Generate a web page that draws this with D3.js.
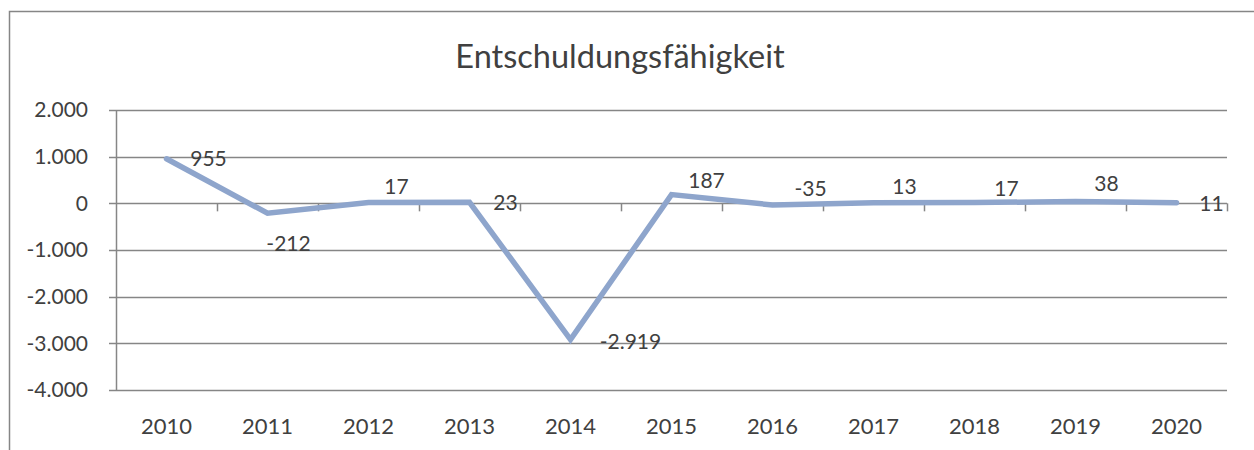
<!DOCTYPE html>
<html>
<head>
<meta charset="utf-8">
<script src="https://cdn.jsdelivr.net/npm/d3@7"></script>
<style>
  body { margin: 0; background: #fff; }
  svg { display: block; font-family: Lato, "Open Sans", sans-serif; }
</style>
</head>
<body>
<div id="chart"></div>
<script>
// chart data
const years = ["2010", "2011", "2012", "2013", "2014", "2015", "2016", "2017", "2018", "2019", "2020"];
const values = [955, -212, 17, 23, -2919, 187, -35, 13, 17, 38, 11];
const yTicks = [-4000, -3000, -2000, -1000, 0, 1000, 2000];
const title = "Entschuldungsfähigkeit";

// where each data label sits relative to its point (dx, dy in px)
const labelShift = [[42, 0], [21, 30], [28, -16], [36, 0], [60, 2], [35, -14], [38, -16], [31, -16], [32, -14], [31, -18], [35, 1]];

const width = 1254, height = 450;
const margin = { top: 110, right: 27, bottom: 60, left: 116 };
const grey = "#868686", textCol = "#404040", lineCol = "#8EA5CC";

const de = d3.formatLocale({ decimal: ",", thousands: ".", grouping: [3], currency: ["", " €"], minus: "-" });
const fmt = de.format(",d");

const svg = d3.select("#chart").append("svg")
    .attr("width", width)
    .attr("height", height);

// outer chart frame (runs off the picture on the right and bottom)
svg.append("rect")
    .attr("x", 9.5).attr("y", 11.5)
    .attr("width", 1400).attr("height", 600)
    .attr("fill", "none")
    .attr("stroke", grey)
    .attr("stroke-width", 1.5);

svg.append("text")
    .attr("x", 620).attr("y", 68)
    .attr("text-anchor", "middle")
    .attr("fill", textCol)
    .style("font-size", "32.5px")
    .text(title);

const x = d3.scaleBand()
    .domain(years)
    .range([margin.left, width - margin.right])
    .padding(0);

const y = d3.scaleLinear()
    .domain([-4000, 2000])
    .range([height - margin.bottom, margin.top]);

// horizontal gridlines
svg.append("g")
    .selectAll("line")
    .data(yTicks).enter()
    .append("line")
      .attr("x1", margin.left - 7)
      .attr("x2", width - margin.right)
      .attr("y1", function(d) { return Math.round(y(d)) + 0.5; })
      .attr("y2", function(d) { return Math.round(y(d)) + 0.5; })
      .attr("stroke", grey)
      .attr("stroke-width", 1.5);

// y axis line
svg.append("line")
    .attr("x1", margin.left + 0.5).attr("x2", margin.left + 0.5)
    .attr("y1", y(2000)).attr("y2", y(-4000))
    .attr("stroke", grey)
    .attr("stroke-width", 1.5);

// y tick labels
svg.append("g")
    .selectAll("text")
    .data(yTicks).enter()
    .append("text")
      .attr("x", margin.left - 28)
      .attr("y", function(d) { return y(d); })
      .attr("dy", "0.35em")
      .attr("text-anchor", "end")
      .attr("fill", textCol)
      .style("font-size", "21px")
      .text(function(d) { return fmt(d); });

// tick marks on the zero line, at category boundaries
const bounds = years.slice(1).map(function(d) { return x(d); }).concat([x.range()[1]]);
svg.append("g")
    .selectAll("line")
    .data(bounds).enter()
    .append("line")
      .attr("x1", function(d) { return Math.round(d) + 0.5; })
      .attr("x2", function(d) { return Math.round(d) + 0.5; })
      .attr("y1", y(0))
      .attr("y2", y(0) + 8)
      .attr("stroke", grey)
      .attr("stroke-width", 1.5);

// x labels
svg.append("g")
    .selectAll("text")
    .data(years).enter()
    .append("text")
      .attr("x", function(d) { return x(d) + x.bandwidth() / 2; })
      .attr("y", 434)
      .attr("text-anchor", "middle")
      .attr("fill", textCol)
      .style("font-size", "22px")
      .text(function(d) { return d; });

const pts = years.map(function(d, i) { return { year: d, value: values[i], shift: labelShift[i] }; });

const line = d3.line()
    .x(function(d) { return x(d.year) + x.bandwidth() / 2; })
    .y(function(d) { return y(d.value); });

svg.append("path")
    .datum(pts)
    .attr("d", line)
    .attr("fill", "none")
    .attr("stroke", lineCol)
    .attr("stroke-width", 5.5)
    .attr("stroke-linecap", "round")
    .attr("stroke-linejoin", "miter");

// data labels
svg.append("g")
    .selectAll("text")
    .data(pts).enter()
    .append("text")
      .attr("x", function(d) { return x(d.year) + x.bandwidth() / 2 + d.shift[0]; })
      .attr("y", function(d) { return y(d.value) + d.shift[1]; })
      .attr("dy", "0.35em")
      .attr("text-anchor", "middle")
      .attr("fill", textCol)
      .style("font-size", "21px")
      .text(function(d) { return fmt(d.value); });
</script>
</body>
</html>
